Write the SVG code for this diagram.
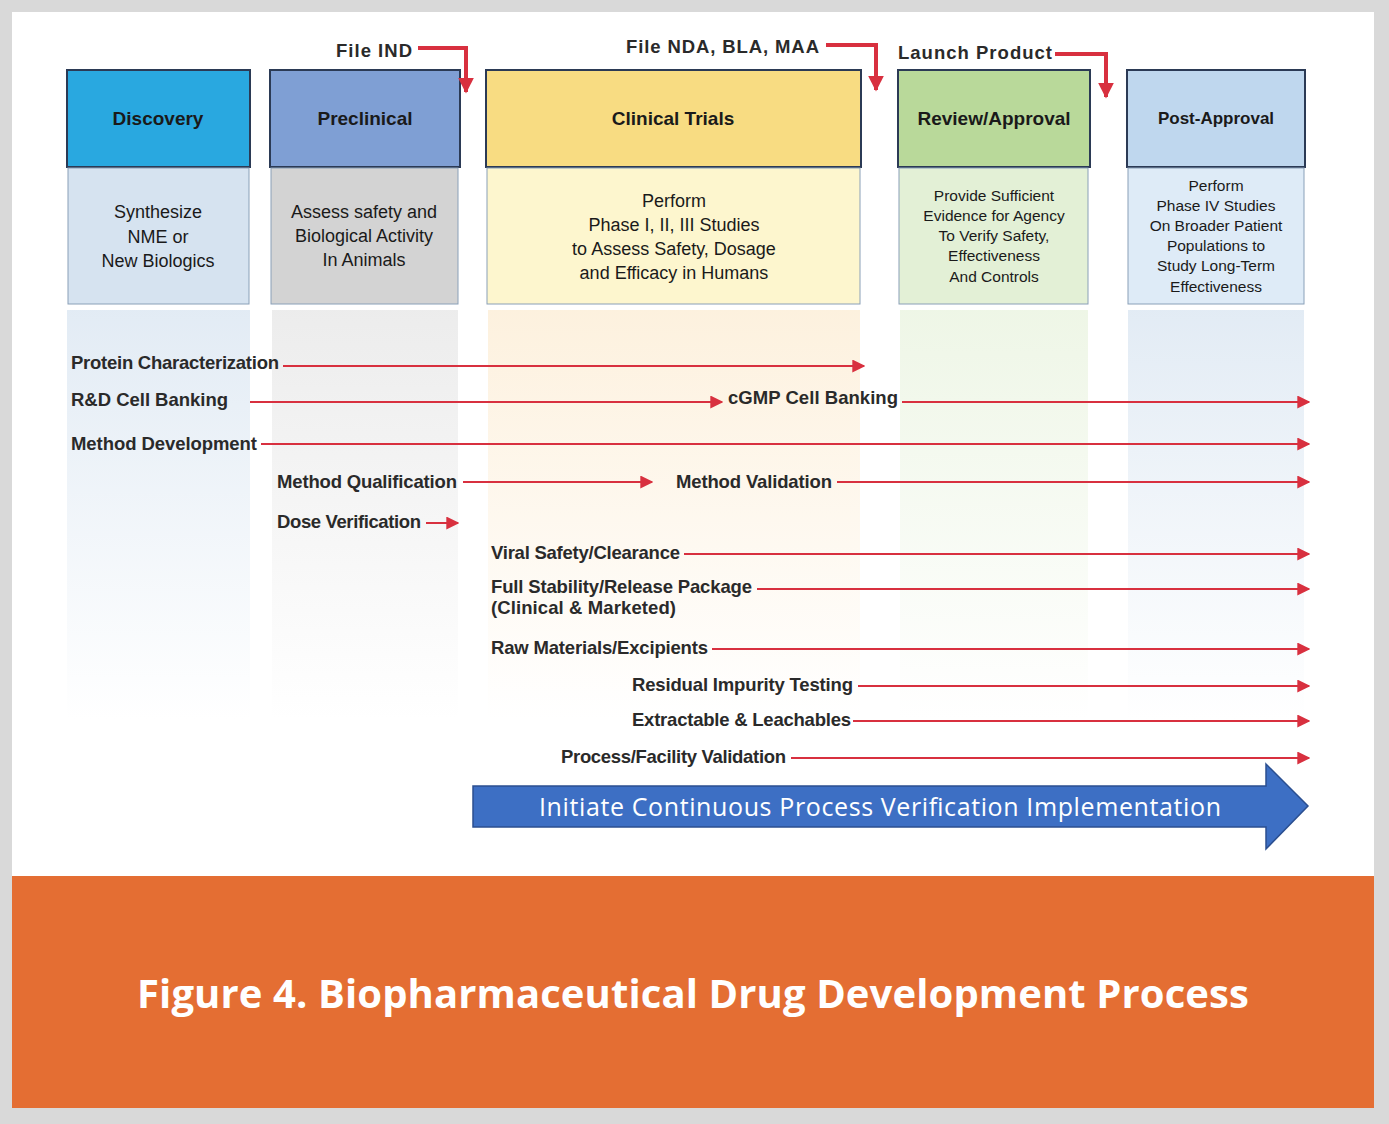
<svg xmlns="http://www.w3.org/2000/svg" width="1389" height="1124" viewBox="0 0 1389 1124">
<defs>
<style>
.t{font-family:"Liberation Sans",Arial,sans-serif;fill:#1a1a1a}
.h{font-size:19px;font-weight:bold;text-anchor:middle}
.b{font-size:18px;text-anchor:middle}
.s{font-size:15.5px;text-anchor:middle}
.l{font-size:18.5px;font-weight:bold;fill:#2a2a2a}
.ln{stroke:#D8303F;stroke-width:2;fill:none}
.mk{stroke:#D8303F;stroke-width:4;fill:none}
.bx{stroke:#2b3a55;stroke-width:2}
</style>
<marker id="ah" viewBox="0 0 10 10" refX="9" refY="5" markerWidth="13" markerHeight="13" orient="auto" markerUnits="userSpaceOnUse"><path d="M0,0L10,5L0,10z" fill="#D8303F"/></marker>
<marker id="ah2" viewBox="0 0 10 10" refX="9" refY="5" markerWidth="16" markerHeight="16" orient="auto" markerUnits="userSpaceOnUse"><path d="M0,0L10,5L0,10z" fill="#D8303F"/></marker>
<linearGradient id="fb" x1="0" y1="0" x2="0" y2="1"><stop offset="0" stop-color="#D6E3F0" stop-opacity="0.7"/><stop offset="1" stop-color="#D6E3F0" stop-opacity="0"/></linearGradient>
<linearGradient id="fg" x1="0" y1="0" x2="0" y2="1"><stop offset="0" stop-color="#E0E0E0" stop-opacity="0.6"/><stop offset="1" stop-color="#E0E0E0" stop-opacity="0"/></linearGradient>
<linearGradient id="fy" x1="0" y1="0" x2="0" y2="1"><stop offset="0" stop-color="#FCEBD0" stop-opacity="0.7"/><stop offset="1" stop-color="#FCEBD0" stop-opacity="0"/></linearGradient>
<linearGradient id="fgr" x1="0" y1="0" x2="0" y2="1"><stop offset="0" stop-color="#E3F0D6" stop-opacity="0.6"/><stop offset="1" stop-color="#E3F0D6" stop-opacity="0"/></linearGradient>
</defs>
<rect width="1389" height="1124" fill="#D9D9D9"/>
<rect x="12" y="12" width="1362" height="864" fill="#fff"/>
<rect x="12" y="876" width="1362" height="232" fill="#E46E33"/>
<text x="693" y="1008" text-anchor="middle" textLength="1112" style="font-family:'Open Sans','Liberation Sans',sans-serif;font-size:40px;font-weight:bold;fill:#fff">Figure 4. Biopharmaceutical Drug Development Process</text>

<g id="fades">
<rect x="67" y="310" width="183" height="410" fill="url(#fb)"/>
<rect x="272" y="310" width="186" height="410" fill="url(#fg)"/>
<rect x="488" y="310" width="372" height="410" fill="url(#fy)"/>
<rect x="900" y="310" width="188" height="410" fill="url(#fgr)"/>
<rect x="1128" y="310" width="176" height="410" fill="url(#fb)"/>
</g>

<g id="discovery">
<rect class="bx" x="67" y="70" width="183" height="97" fill="#29A8E0"/>
<rect x="68" y="168" width="181" height="136" fill="#D6E3F0" stroke="#8aa0b8"/>
<text class="t h" x="158" y="125">Discovery</text>
<text class="t b" x="158" y="218">Synthesize</text><text class="t b" x="158" y="243">NME or</text><text class="t b" x="158" y="267">New Biologics</text>
</g>
<g id="preclinical">
<rect class="bx" x="270" y="70" width="190" height="97" fill="#7F9FD4"/>
<rect x="271" y="168" width="187" height="136" fill="#D3D3D3" stroke="#8aa0b8"/>
<text class="t h" x="365" y="125">Preclinical</text>
<text class="t b" x="364" y="218">Assess safety and</text><text class="t b" x="364" y="242">Biological Activity</text><text class="t b" x="364" y="266">In Animals</text>
</g>
<g id="clinical">
<rect class="bx" x="486" y="70" width="375" height="97" fill="#F8DC82"/>
<rect x="487" y="168" width="373" height="136" fill="#FDF6CE" stroke="#8aa0b8"/>
<text class="t h" x="673" y="125">Clinical Trials</text>
<text class="t b" x="674" y="207">Perform</text><text class="t b" x="674" y="231">Phase I, II, III Studies</text><text class="t b" x="674" y="255">to Assess Safety, Dosage</text><text class="t b" x="674" y="279">and Efficacy in Humans</text>
</g>
<g id="review">
<rect class="bx" x="898" y="70" width="192" height="97" fill="#B9D99A"/>
<rect x="899" y="168" width="189" height="136" fill="#E3F0D6" stroke="#8aa0b8"/>
<text class="t h" x="994" y="125">Review/Approval</text>
<text class="t s" x="994" y="201">Provide Sufficient</text><text class="t s" x="994" y="221">Evidence for Agency</text><text class="t s" x="994" y="241">To Verify Safety,</text><text class="t s" x="994" y="261">Effectiveness</text><text class="t s" x="994" y="282">And Controls</text>
</g>
<g id="postapproval">
<rect class="bx" x="1127" y="70" width="178" height="97" fill="#BFD7EE"/>
<rect x="1128" y="168" width="176" height="136" fill="#DEEBF7" stroke="#8aa0b8"/>
<text class="t" x="1216" y="124" style="font-size:17px;font-weight:bold;text-anchor:middle">Post-Approval</text>
<text class="t s" x="1216" y="191">Perform</text><text class="t s" x="1216" y="211">Phase IV Studies</text><text class="t s" x="1216" y="231">On Broader Patient</text><text class="t s" x="1216" y="251">Populations to</text><text class="t s" x="1216" y="271">Study Long-Term</text><text class="t s" x="1216" y="292">Effectiveness</text>
</g>

<g id="milestones">
<text class="t l" x="336" y="57" textLength="76">File IND</text>
<text class="t l" x="626" y="53" textLength="193">File NDA, BLA, MAA</text>
<text class="t l" x="898" y="59" textLength="154">Launch Product</text>
</g>

<g id="labels">
<text class="t l" x="71" y="369" textLength="208">Protein Characterization</text>
<text class="t l" x="71" y="406" textLength="157">R&amp;D Cell Banking</text>
<text class="t l" x="728" y="404" textLength="170">cGMP Cell Banking</text>
<text class="t l" x="71" y="450" textLength="186">Method Development</text>
<text class="t l" x="277" y="488" textLength="180">Method Qualification</text>
<text class="t l" x="676" y="488" textLength="156">Method Validation</text>
<text class="t l" x="277" y="528" textLength="144">Dose Verification</text>
<text class="t l" x="491" y="559" textLength="189">Viral Safety/Clearance</text>
<text class="t l" x="491" y="593" textLength="261">Full Stability/Release Package</text>
<text class="t l" x="491" y="614" textLength="185">(Clinical &amp; Marketed)</text>
<text class="t l" x="491" y="654" textLength="217">Raw Materials/Excipients</text>
<text class="t l" x="632" y="691" textLength="221">Residual Impurity Testing</text>
<text class="t l" x="632" y="726" textLength="219">Extractable &amp; Leachables</text>
<text class="t l" x="561" y="763" textLength="225">Process/Facility Validation</text>
</g>

<g id="connectors">
<path class="mk" d="M418,48H466V92" marker-end="url(#ah2)"/>
<path class="mk" d="M826,45H876V90" marker-end="url(#ah2)"/>
<path class="mk" d="M1055,54H1106V97" marker-end="url(#ah2)"/>
<path class="ln" d="M283,366H864" marker-end="url(#ah)"/>
<path class="ln" d="M250,402H722" marker-end="url(#ah)"/>
<path class="ln" d="M902,402H1309" marker-end="url(#ah)"/>
<path class="ln" d="M261,444H1309" marker-end="url(#ah)"/>
<path class="ln" d="M463,482H652" marker-end="url(#ah)"/>
<path class="ln" d="M837,482H1309" marker-end="url(#ah)"/>
<path class="ln" d="M426,523H458" marker-end="url(#ah)"/>
<path class="ln" d="M684,554H1309" marker-end="url(#ah)"/>
<path class="ln" d="M757,589H1309" marker-end="url(#ah)"/>
<path class="ln" d="M712,649H1309" marker-end="url(#ah)"/>
<path class="ln" d="M858,686H1309" marker-end="url(#ah)"/>
<path class="ln" d="M853,721H1309" marker-end="url(#ah)"/>
<path class="ln" d="M791,758H1309" marker-end="url(#ah)"/>
</g>

<g id="cpv">
<path d="M473,786H1266V764L1308,806L1266,849V827H473Z" fill="#3D6FC4" stroke="#2b4f90" stroke-width="1.5"/>
<text x="880" y="816" text-anchor="middle" textLength="682" style="font-family:'Open Sans','Liberation Sans',sans-serif;font-size:25px;fill:#fff">Initiate Continuous Process Verification Implementation</text>
</g>
</svg>
